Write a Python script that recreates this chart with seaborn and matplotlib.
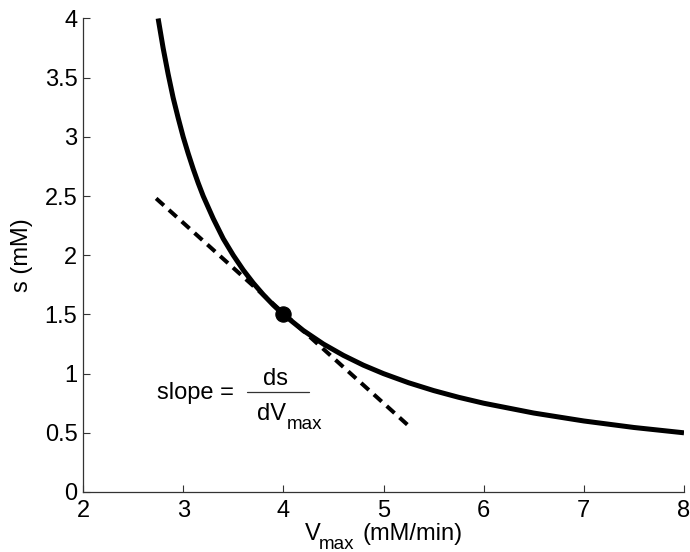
import numpy as np
import matplotlib
matplotlib.use("Agg")
import matplotlib.pyplot as plt
import seaborn as sns

# curve
vmax = [2.75, 2.8, 2.85, 2.9, 2.95, 3.0, 3.05, 3.1, 3.15, 3.2, 3.3, 3.4, 3.5,
        3.6, 3.7, 3.8, 3.9, 4.0, 4.2, 4.4, 4.6, 4.8, 5.0, 5.25, 5.5, 5.75,
        6.0, 6.5, 7.0, 7.5, 8.0]
s_vals = [4.0, 3.75, 3.53, 3.33, 3.16, 3.0, 2.86, 2.73, 2.61, 2.5, 2.31,
          2.14, 2.0, 1.875, 1.765, 1.667, 1.579, 1.5, 1.364, 1.25, 1.154,
          1.071, 1.0, 0.923, 0.857, 0.8, 0.75, 0.667, 0.6, 0.545, 0.5]

# tangent line and the point
tan_x = [2.73, 5.25]
tan_y = [2.48, 0.56]
pt_x = [4.0]
pt_y = [1.5]

xticks = [2, 3, 4, 5, 6, 7, 8]
yticks = [0, 0.5, 1, 1.5, 2, 2.5, 3, 3.5, 4]
ytick_labels = ["0", "0.5", "1", "1.5", "2", "2.5", "3", "3.5", "4"]

sns.set_style("ticks")
plt.rcParams['font.family'] = ['Liberation Sans', 'DejaVu Sans']
plt.rcParams['xtick.direction'] = 'in'
plt.rcParams['ytick.direction'] = 'in'
plt.rcParams['text.color'] = 'black'
plt.rcParams['axes.labelcolor'] = 'black'
plt.rcParams['xtick.labelcolor'] = 'black'
plt.rcParams['ytick.labelcolor'] = 'black'

fig = plt.figure(figsize=(6.9, 5.52), dpi=100)
ax = fig.add_axes([0.1203, 0.1087, 0.871, 0.8578])

sns.lineplot(x=vmax, y=s_vals, color='black', linewidth=3.6, ax=ax,
             solid_joinstyle='round', solid_capstyle='butt')
sns.lineplot(x=tan_x, y=tan_y, color='black', linewidth=2.9,
             linestyle=(0, (2.6, 1.68)), ax=ax)
sns.scatterplot(x=pt_x, y=pt_y, color='black', s=120, edgecolor='black',
                zorder=5, ax=ax)

ax.set_xlim(2, 8)
ax.set_ylim(0, 4)
ax.set_xticks(xticks)
ax.set_xticklabels([str(t) for t in xticks])
ax.set_yticks(yticks)
ax.set_yticklabels(ytick_labels)
ax.tick_params(axis='x', labelsize=17, length=5, width=0.8, pad=6,
               color='#333333', labelcolor='black')
ax.tick_params(axis='y', labelsize=17, length=5, width=0.8, pad=4,
               color='#333333', labelcolor='black')
for side in ['left', 'bottom']:
    ax.spines[side].set_linewidth(0.9)
    ax.spines[side].set_color('#333333')
sns.despine(ax=ax)

fs = 17
sub = 13.5

# y label
ax.set_ylabel('s (mM)', fontsize=fs, color='black')
ax.yaxis.set_label_coords(-0.083, 0.5)

# x label with MATLAB-like subscript
fig.text(305 / 690, 1 - 540 / 552, 'V', fontsize=fs, va='baseline', ha='left')
fig.text(319 / 690, 1 - 549 / 552, 'max', fontsize=sub, va='baseline', ha='left')
fig.text(362 / 690, 1 - 540 / 552, '(mM/min)', fontsize=fs, va='baseline', ha='left')

# slope annotation
ax.text(2.739, 0.785, 'slope =', fontsize=fs, va='baseline', ha='left')
ax.text(3.917, 0.904, 'ds', fontsize=fs, va='baseline', ha='center')
ax.plot([3.637, 4.256], [0.845, 0.845], color='#333333', linewidth=0.9)
ax.text(3.737, 0.608, 'dV', fontsize=fs, va='baseline', ha='left')
ax.text(4.036, 0.53, 'max', fontsize=sub, va='baseline', ha='left')

fig.savefig('out.png', dpi=100)
